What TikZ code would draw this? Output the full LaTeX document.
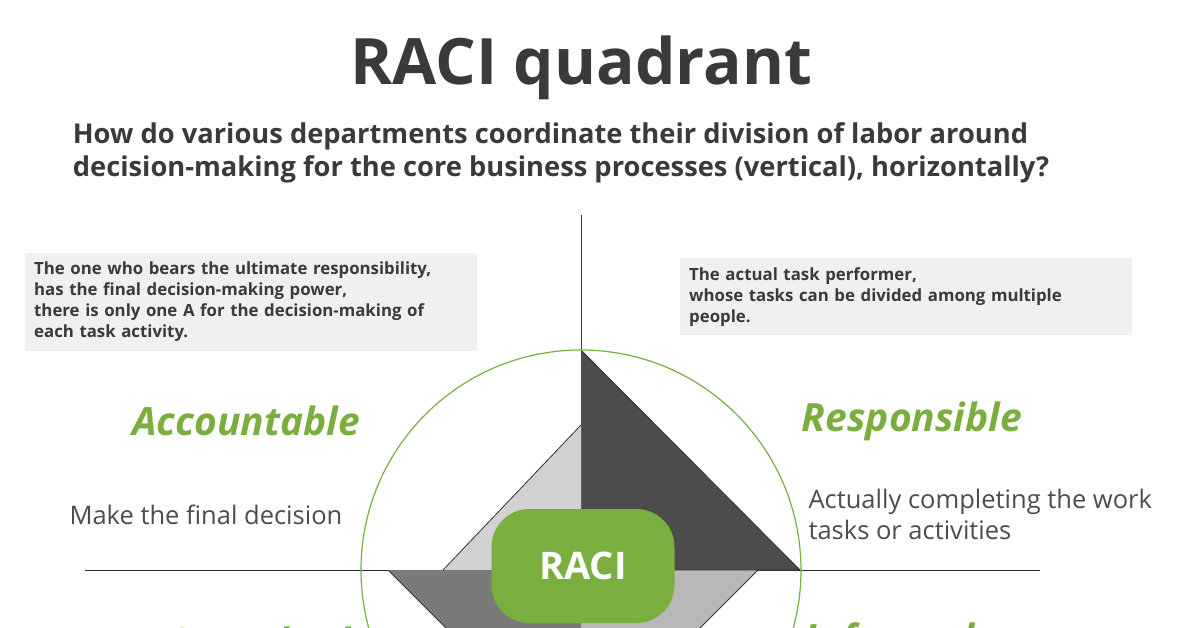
\documentclass[tikz,border=0pt]{standalone}
\usepackage{fontspec}
\setmainfont{Open Sans}
\definecolor{grn}{HTML}{7AAE3E}
\definecolor{txt}{HTML}{3A3A3A}
\begin{document}
\begin{tikzpicture}[x=1pt,y=-1pt,
  box/.style={fill=black!6,draw=none,anchor=north west,inner sep=9pt,align=left,text width=#1,font=\fontsize{16.8}{21}\selectfont\bfseries,text=txt},
  role/.style={text=grn,font=\fontsize{39}{44}\selectfont\bfseries\itshape},
  desc/.style={text=black!70,font=\fontsize{25.5}{31}\selectfont,align=left}]
\useasboundingbox (0,0) rectangle (1200,628);
\clip (0,0) rectangle (1200,628);
\node[font=\fontsize{64}{70}\selectfont\bfseries,text=txt] (title) at (581,68) {RACI quadrant};
\node[font=\fontsize{27.3}{33}\selectfont\bfseries,text=txt,align=left] (sub) at (561,153) {How do various departments coordinate their division of labor around\\decision-making for the core business processes (vertical), horizontally?};
\node[box=434pt] (ba) at (25,253) {The one who bears the ultimate responsibility,\\has the final decision-making power,\\there is only one A for the decision-making of\\each task activity.};
\node[box=434pt] (br) at (680,258) {The actual task performer,\\whose tasks can be divided among multiple\\people.\\[4pt]};
\coordinate (c) at (581,570);
\draw[black!80,line width=1pt] (581,215) -- (581,640);
\draw[black!80,line width=1pt] (85,570) -- (1040,570);
\fill[black!70] (581,350) -- (800,570) -- (c) -- cycle;
\fill[black!18] (581,425) -- (443,570) -- (c) -- cycle;
\fill[black!52] (388,570) -- (581,763) -- (c) -- cycle;
\fill[black!28] (758,570) -- (581,747) -- (c) -- cycle;
\draw[black!80,line width=0.8pt] (581,350) -- (800,570) -- (581,570) (581,425) -- (443,570) (388,570) -- (581,763) (758,570) -- (581,747);
\draw[grn,line width=1.2pt] (c) circle (220);
\node[fill=grn,rounded corners=38pt,minimum width=183pt,minimum height=114pt,text=white,font=\fontsize{38}{40}\selectfont\bfseries] (raci) at (583,566) {RACI};
\node[role] (acc) at (246,421) {Accountable};
\node[role] (res) at (912,421) {Responsible};
\node[role] (con) at (258,642) {Consulted};
\node[role] (inf) at (890,642) {Informed};
\node[desc,anchor=west] (dacc) at (66,515) {Make the final decision};
\node[desc,anchor=west] (dres) at (805,514) {Actually completing the work\\tasks or activities};
\end{tikzpicture}
\end{document}
